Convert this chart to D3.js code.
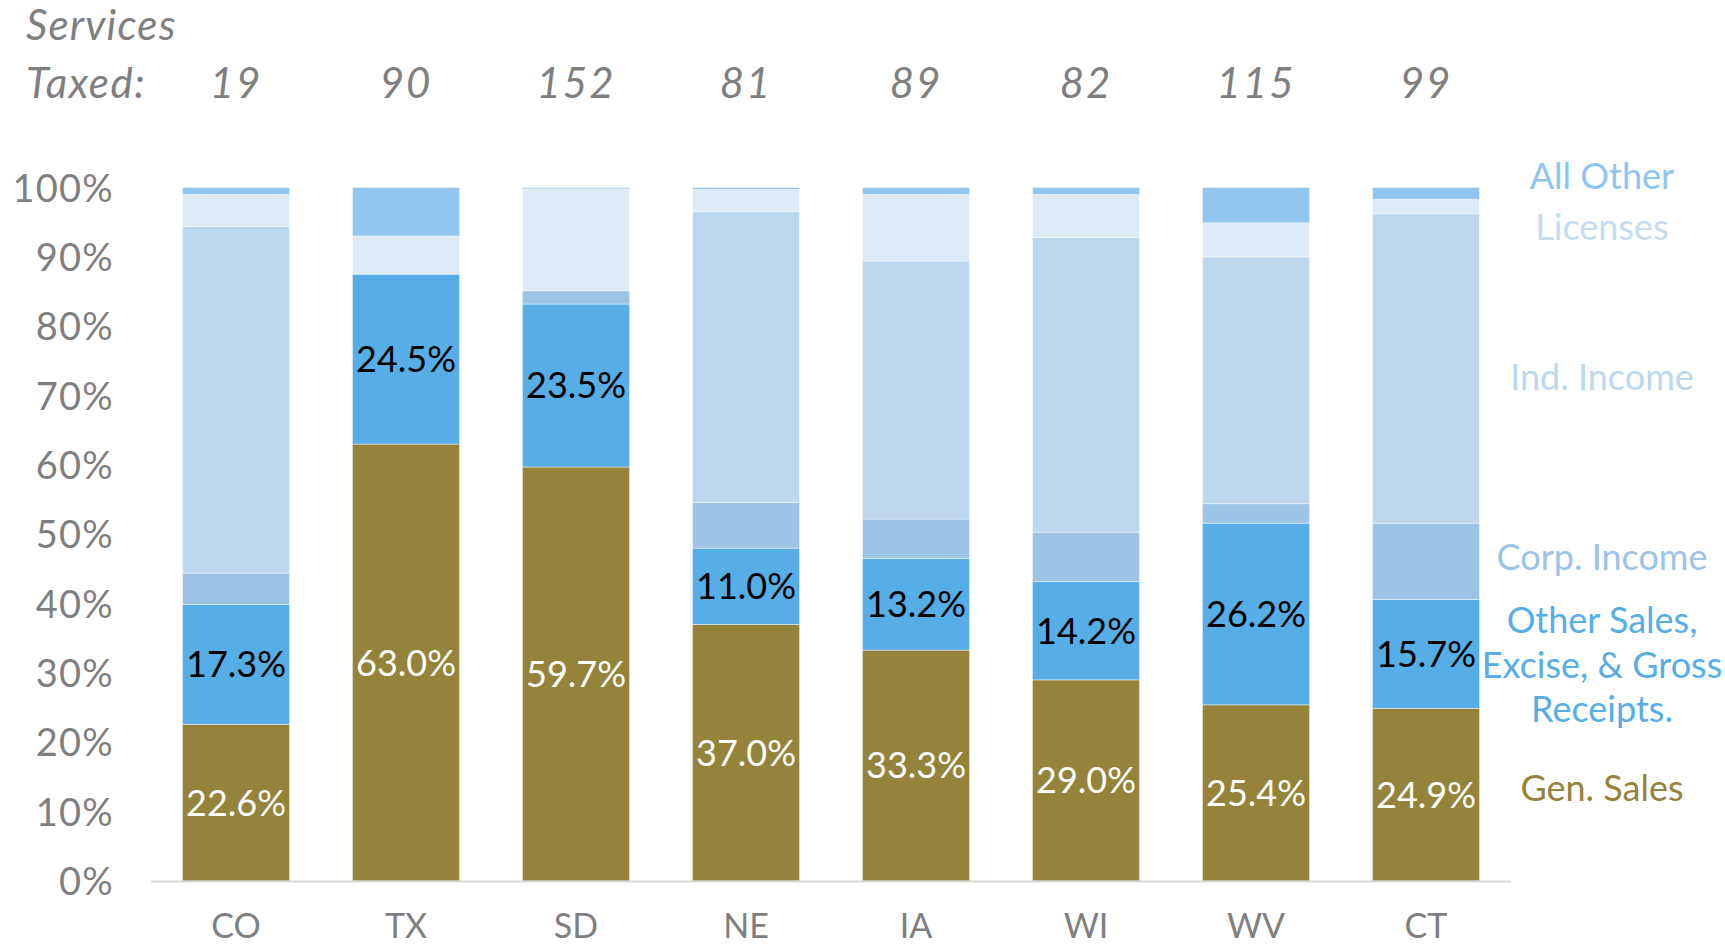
<!DOCTYPE html>
<html>
<head>
<meta charset="utf-8">
<script src="https://cdn.jsdelivr.net/npm/d3@7"></script>
<style>
  html, body { margin: 0; padding: 0; background: #fff; }
  svg { display: block; }
  text { font-family: Lato, "Open Sans", sans-serif; }
</style>
</head>
<body>
<svg id="chart" width="1725" height="947"></svg>
<script>
// ---- Data ----
const states = ["CO", "TX", "SD", "NE", "IA", "WI", "WV", "CT"];
const servicesTaxed = [19, 90, 152, 81, 89, 82, 115, 99];
const seriesNames = ["Gen. Sales", "Other Sales", "Corp. Income", "Ind. Income", "Licenses", "All Other"];
const genSales    = [22.6, 63.0, 59.7, 37.0, 33.3, 29.0, 25.4, 24.9];
const otherSales  = [17.3, 24.5, 23.5, 11.0, 13.2, 14.2, 26.2, 15.7];
const corpIncome  = [4.5, 0.0, 1.9, 6.6, 5.7, 7.1, 2.8, 11.0];
const indIncome   = [50.0, 0.0, 0.0, 41.9, 37.2, 42.5, 35.6, 44.6];
const licenses    = [4.6, 5.5, 14.7, 3.2, 9.6, 6.2, 4.9, 2.1];
const allOther    = [1.0, 7.0, 0.2, 0.3, 1.0, 1.0, 5.1, 1.7];
const yTicks = [0, 10, 20, 30, 40, 50, 60, 70, 80, 90, 100];
const legendLabels = [
  { key: "All Other", lines: ["All Other"] },
  { key: "Licenses", lines: ["Licenses"] },
  { key: "Ind. Income", lines: ["Ind. Income"] },
  { key: "Corp. Income", lines: ["Corp. Income"] },
  { key: "Other Sales", lines: ["Other Sales,", "Excise, & Gross", "Receipts."] },
  { key: "Gen. Sales", lines: ["Gen. Sales"] }
];

// ---- Styles ----
const colors = {
  "Gen. Sales": "#95823B",
  "Other Sales": "#57ADE6",
  "Corp. Income": "#9DC3E6",
  "Ind. Income": "#BDD7EE",
  "Licenses": "#DEEAF6",
  "All Other": "#92C6EE"
};
const legendColors = {
  "Gen. Sales": "#95823B",
  "Other Sales": "#57ADE6",
  "Corp. Income": "#9DC3E6",
  "Ind. Income": "#BDD7EE",
  "Licenses": "#C6DCF0",
  "All Other": "#8EC5EE"
};
const legendBaselines = {
  "All Other": [189],
  "Licenses": [240],
  "Ind. Income": [390],
  "Corp. Income": [570],
  "Other Sales": [633, 678, 722],
  "Gen. Sales": [801]
};

const rows = states.map((s, i) => ({
  state: s,
  "Gen. Sales": genSales[i],
  "Other Sales": otherSales[i],
  "Corp. Income": corpIncome[i],
  "Ind. Income": indIncome[i],
  "Licenses": licenses[i],
  "All Other": allOther[i]
}));

const svg = d3.select("#chart");
const x = d3.scaleBand().domain(states).range([151, 1511]).paddingInner(0.37).paddingOuter(0.185);
const y = d3.scaleLinear().domain([0, 100]).range([881, 187.5]);

const stack = d3.stack().keys(seriesNames);
const stacked = stack(rows);

// Bars
const layers = svg.append("g").selectAll("g").data(stacked).join("g")
  .attr("fill", d => colors[d.key]);
layers.selectAll("rect").data(d => d.map(p => ({ p, key: d.key })))
  .join("rect")
  .attr("x", d => x(d.p.data.state))
  .attr("width", x.bandwidth())
  .attr("y", d => y(d.p[1]))
  .attr("height", d => Math.max(0, y(d.p[0]) - y(d.p[1])))
  .attr("stroke", "rgba(255,255,255,0.55)")
  .attr("stroke-width", 0.8);

// Axis line
svg.append("line")
  .attr("x1", 151).attr("x2", 1511)
  .attr("y1", 881.5).attr("y2", 881.5)
  .attr("stroke", "#d9d9d9").attr("stroke-width", 2.2);

// Y tick labels
const yAxis = d3.axisLeft(y).tickValues(yTicks).tickFormat(d => d + "%").tickSize(0).tickPadding(0);
const yg = svg.append("g").attr("transform", "translate(114,0)").call(yAxis);
yg.select(".domain").remove();
yg.selectAll("text")
  .attr("font-size", 38)
  .attr("letter-spacing", 1.2)
  .attr("fill", "#7f7f7f")
  .attr("font-family", "Lato, sans-serif")
  .attr("dy", "0.36em");

// X labels
const xAxis = d3.axisBottom(x).tickSize(0).tickPadding(0);
const xg = svg.append("g").attr("transform", "translate(0,938)").call(xAxis);
xg.select(".domain").remove();
xg.selectAll("text")
  .attr("font-size", 34)
  .attr("fill", "#7f7f7f")
  .attr("font-family", "Lato, sans-serif")
  .attr("dy", 0)
  .attr("y", 0);

// Data labels for Gen. Sales and Other Sales
const labelSeries = [
  { key: "Gen. Sales", fill: "#ffffff" },
  { key: "Other Sales", fill: "#000000" }
];
labelSeries.forEach(ls => {
  const layer = stacked.find(s => s.key === ls.key);
  svg.append("g").selectAll("text").data(layer).join("text")
    .attr("x", d => x(d.data.state) + x.bandwidth() / 2)
    .attr("y", d => (y(d[0]) + y(d[1])) / 2)
    .attr("dy", "0.36em")
    .attr("text-anchor", "middle")
    .attr("font-size", 36)
    .attr("fill", ls.fill)
    .text(d => d.data[ls.key].toFixed(1) + "%");
});

// Header
svg.append("text").attr("x", 26).attr("y", 40)
  .attr("font-size", 42).attr("letter-spacing", 1.2).attr("font-style", "italic").attr("fill", "#7f7f7f")
  .text("Services");
svg.append("text").attr("x", 26).attr("y", 98)
  .attr("font-size", 42).attr("letter-spacing", 1.5).attr("font-style", "italic").attr("fill", "#7f7f7f")
  .text("Taxed:");
svg.append("g").selectAll("text").data(states).join("text")
  .attr("x", d => x(d) + x.bandwidth() / 2)
  .attr("y", 98)
  .attr("text-anchor", "middle")
  .attr("font-size", 42).attr("font-style", "italic").attr("fill", "#7f7f7f")
  .attr("letter-spacing", 2)
  .text((d, i) => servicesTaxed[i]);

// Legend on the right
const lg = svg.append("g");
legendLabels.forEach(l => {
  l.lines.forEach((line, j) => {
    lg.append("text")
      .attr("x", 1602)
      .attr("y", legendBaselines[l.key][j])
      .attr("text-anchor", "middle")
      .attr("font-size", 36)
      .attr("fill", legendColors[l.key])
      .text(line);
  });
});
</script>
</body>
</html>
